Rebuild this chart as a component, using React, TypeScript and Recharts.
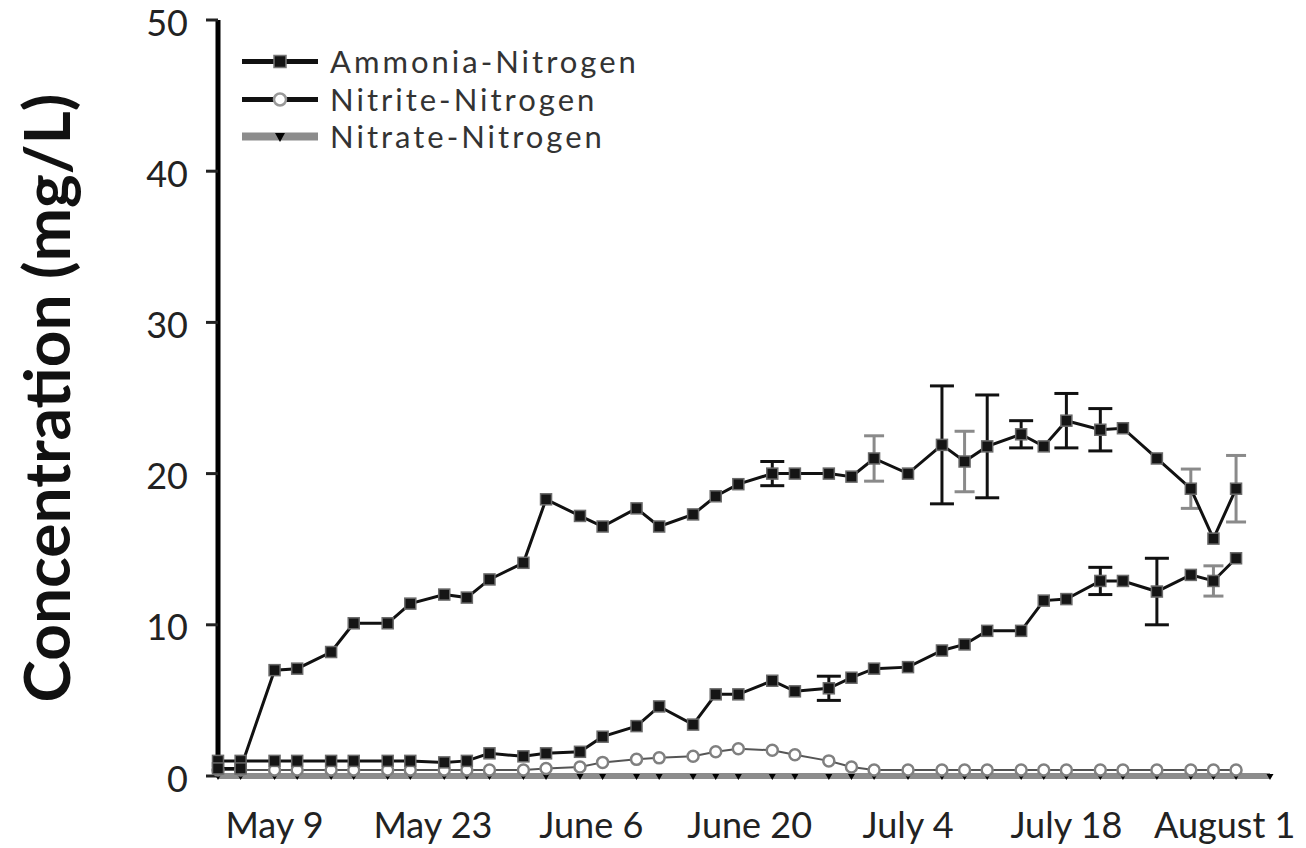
import { ErrorBar, Label, Legend, Line, LineChart, XAxis, YAxis } from "recharts";

// sampling days, counted from May 1 (= day 1)
const days = [
  4, 6, 9, 11, 14, 16, 19, 21, 24, 26, 28, 31, 33, 36, 38, 41, 43, 46, 48, 50,
  53, 55, 58, 60, 62, 65, 68, 70, 72, 75, 77, 79, 82, 84, 87, 90, 92, 94, 97,
];

// upper curve
const upper = [
  0.5, 0.5, 7.0, 7.1, 8.2, 10.1, 10.1, 11.4, 12.0, 11.8, 13.0, 14.1, 18.3, 17.2,
  16.5, 17.7, 16.5, 17.3, 18.5, 19.3, 20.0, 20.0, 20.0, 19.8, 21.0, 20.0, 21.9,
  20.8, 21.8, 22.6, 21.8, 23.5, 22.9, 23.0, 21.0, 19.0, 15.7, 19.0, null,
];
// middle curve
const middle = [
  1.0, 1.0, 1.0, 1.0, 1.0, 1.0, 1.0, 1.0, 0.9, 1.0, 1.5, 1.3, 1.5, 1.6, 2.6,
  3.3, 4.6, 3.4, 5.4, 5.4, 6.3, 5.6, 5.8, 6.5, 7.1, 7.2, 8.3, 8.7, 9.6, 9.6,
  11.6, 11.7, 12.9, 12.9, 12.2, 13.3, 12.9, 14.4, null,
];
const nitrite = [
  0.4, 0.4, 0.4, 0.4, 0.4, 0.4, 0.4, 0.4, 0.4, 0.4, 0.4, 0.4, 0.5, 0.6, 0.9,
  1.1, 1.2, 1.3, 1.6, 1.8, 1.7, 1.4, 1.0, 0.6, 0.4, 0.4, 0.4, 0.4, 0.4, 0.4,
  0.4, 0.4, 0.4, 0.4, 0.4, 0.4, 0.4, 0.4, null,
];
const nitrate = [
  0, 0, 0, 0, 0, 0, 0, 0, 0, 0, 0, 0, 0, 0, 0, 0, 0, 0, 0, 0, 0, 0, 0, 0, 0,
  0, 0, 0, 0, 0, 0, 0, 0, 0, 0, 0, 0, 0, 0,
];

// [day, ± error]
const upperErrDark = [[53, 0.8], [68, 3.9], [72, 3.4], [75, 0.9], [79, 1.8], [82, 1.4]];
const upperErrLight = [[62, 1.5], [70, 2.0], [90, 1.3], [94, 2.2]];
const middleErrDark = [[58, 0.8], [82, 0.9], [87, 2.2]];
const middleErrLight = [[92, 1.0]];

const yTicks = [0, 10, 20, 30, 40, 50];
const tickDays = [9, 23, 37, 51, 65, 79, 93];
const tickLabels = ["May 9", "May 23", "June 6", "June 20", "July 4", "July 18", "August 1"];

const legendNames = ["Ammonia-Nitrogen", "Nitrite-Nitrogen", "Nitrate-Nitrogen"];

const errAt = (list: number[][], day: number) => {
  const hit = list.find((e) => e[0] === day);
  return hit ? hit[1] : undefined;
};

const data = days.map((day, i) => ({
  day,
  upper: upper[i],
  middle: middle[i],
  nitrite: nitrite[i],
  nitrate: nitrate[i],
  upperErrDark: errAt(upperErrDark, day),
  upperErrLight: errAt(upperErrLight, day),
  middleErrDark: errAt(middleErrDark, day),
  middleErrLight: errAt(middleErrLight, day),
}));

const FONT = "Lato, 'Open Sans', sans-serif";

const SquareDot = (p: any) => {
  if (p.cx == null || p.cy == null || p.value == null) return null;
  return (
    <rect
      key={p.key}
      x={p.cx - 5.5}
      y={p.cy - 5.5}
      width={11}
      height={11}
      fill="#151515"
      stroke="#6a6a6a"
      strokeWidth={1.5}
    />
  );
};

const OpenDot = (p: any) => {
  if (p.cx == null || p.cy == null || p.value == null) return null;
  return <circle key={p.key} cx={p.cx} cy={p.cy} r={5.5} fill="#fff" stroke="#808080" strokeWidth={2.5} />;
};

const TriDot = (p: any) => {
  if (p.cx == null || p.cy == null || p.value == null) return null;
  return (
    <path
      key={p.key}
      d={`M${p.cx - 3.5},${p.cy - 2} L${p.cx + 3.5},${p.cy - 2} L${p.cx},${p.cy + 4} Z`}
      fill="#000"
    />
  );
};

const YTick = (p: any) => (
  <text x={p.x} y={p.y} dy={15.5} textAnchor="end" fontFamily={FONT} fontSize={36} fill="#222">
    {p.payload.value}
  </text>
);

function LegendIcon({ index }: { index: number }) {
  if (index === 0)
    return (
      <svg width={76} height={37}>
        <line x1={0} x2={76} y1={18.5} y2={18.5} stroke="#111" strokeWidth={5} />
        <rect x={32} y={12.5} width={12} height={12} fill="#151515" stroke="#777" strokeWidth={1.5} />
      </svg>
    );
  if (index === 1)
    return (
      <svg width={76} height={37}>
        <line x1={0} x2={76} y1={18.5} y2={18.5} stroke="#111" strokeWidth={5} />
        <circle cx={38} cy={18.5} r={6} fill="#fff" stroke="#999" strokeWidth={2.5} />
      </svg>
    );
  return (
    <svg width={76} height={37}>
      <line x1={0} x2={76} y1={18.5} y2={18.5} stroke="#8c8c8c" strokeWidth={8} />
      <path d="M33,15 L43,15 L38,24 Z" fill="#000" />
    </svg>
  );
}

function LegendBox() {
  return (
    <div style={{ fontFamily: FONT, fontSize: 31, letterSpacing: 3, color: "#333" }}>
      {legendNames.map((name, i) => (
        <div key={name} style={{ display: "flex", alignItems: "center", height: 37.5 }}>
          <LegendIcon index={i} />
          <span style={{ marginLeft: 12, lineHeight: "37px" }}>{name}</span>
        </div>
      ))}
    </div>
  );
}

function AxisTitle(props: any) {
  const vb = props.viewBox || { x: 0, y: 0, width: 0, height: 0 };
  const x = vb.x + 62;
  const y = vb.y + vb.height / 2;
  return (
    <text
      x={x}
      y={y}
      transform={`rotate(-90 ${x} ${y})`}
      textAnchor="middle"
      fontFamily={FONT}
      fontWeight={700}
      fontSize={64}
      fill="#111"
    >
      Concentration (mg/L)
    </text>
  );
}

export default function App() {
  return (
    <div style={{ fontFamily: FONT, marginTop: -8 }}>
      <LineChart width={1290} height={848} data={data} margin={{ top: 20, right: 28, bottom: 0, left: 0 }}>
        <XAxis
          dataKey="day"
          type="number"
          domain={[4, 97]}
          ticks={tickDays}
          interval={0}
          tickFormatter={(d: number) => tickLabels[tickDays.indexOf(d)] ?? ""}
          axisLine={false}
          tickLine={false}
          tickSize={0}
          tickMargin={36}
          height={72}
          tick={{ fontFamily: FONT, fontSize: 36, fill: "#222" }}
        />
        <YAxis
          type="number"
          domain={[0, 50]}
          ticks={yTicks}
          width={210}
          axisLine={{ stroke: "#000", strokeWidth: 5 }}
          tickLine={{ stroke: "#222", strokeWidth: 3 }}
          tickSize={12}
          tickMargin={18}
          tick={<YTick />}
        >
          <Label content={<AxisTitle />} />
        </YAxis>
        <Legend
          layout="vertical"
          align="center"
          verticalAlign="middle"
          content={() => <LegendBox />}
          wrapperStyle={{ left: 234, top: 43, width: "auto" }}
        />
        <Line
          dataKey="nitrate"
          stroke="#8c8c8c"
          strokeWidth={6}
          dot={<TriDot />}
          activeDot={false}
          isAnimationActive={false}
        />
        <Line
          dataKey="nitrite"
          stroke="#555"
          strokeWidth={2}
          dot={<OpenDot />}
          activeDot={false}
          isAnimationActive={false}
        />
        <Line
          dataKey="middle"
          stroke="#111"
          strokeWidth={3}
          dot={<SquareDot />}
          activeDot={false}
          isAnimationActive={false}
        >
          <ErrorBar dataKey="middleErrDark" width={12} strokeWidth={3} stroke="#111" isAnimationActive={false} />
          <ErrorBar dataKey="middleErrLight" width={10} strokeWidth={3} stroke="#8a8a8a" isAnimationActive={false} />
        </Line>
        <Line
          dataKey="upper"
          stroke="#111"
          strokeWidth={3}
          dot={<SquareDot />}
          activeDot={false}
          isAnimationActive={false}
        >
          <ErrorBar dataKey="upperErrDark" width={12} strokeWidth={3} stroke="#111" isAnimationActive={false} />
          <ErrorBar dataKey="upperErrLight" width={10} strokeWidth={3} stroke="#8a8a8a" isAnimationActive={false} />
        </Line>
      </LineChart>
    </div>
  );
}
